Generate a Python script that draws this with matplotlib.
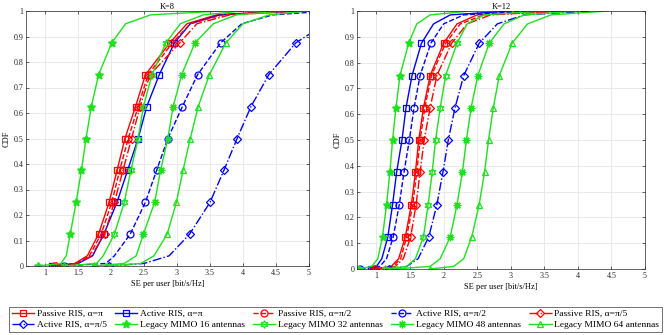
import matplotlib.pyplot as plt

plt.rcParams['font.family'] = ['Liberation Serif', 'DejaVu Serif']

cdf_levels = [0, 0.01, 0.04, 0.125, 0.25, 0.375, 0.5, 0.625, 0.75, 0.875, 0.95, 0.985, 1.0]
mark_idx = [0, 3, 4, 5, 6, 7, 8, 9]

# K = 8
k8_passive_pi = [1.13, 1.45, 1.64, 1.81, 1.97, 2.09, 2.21, 2.37, 2.52, 2.89, 3.15, 3.6, 4.6]
k8_active_pi = [1.10, 1.50, 1.72, 1.89, 2.09, 2.25, 2.41, 2.54, 2.73, 2.96, 3.2, 3.65, 4.8]
k8_passive_pi2 = [1.14, 1.47, 1.67, 1.85, 2.01, 2.13, 2.26, 2.41, 2.56, 2.93, 3.2, 3.7, 4.7]
k8_active_pi2 = [1.28, 1.92, 2.05, 2.29, 2.52, 2.69, 2.86, 3.08, 3.31, 3.66, 3.98, 4.45, 5.3]
k8_passive_pi5 = [1.16, 1.50, 1.70, 1.90, 2.05, 2.18, 2.31, 2.44, 2.59, 3.04, 3.3, 3.8, 4.9]
k8_active_pi5 = [1.97, 2.50, 2.88, 3.19, 3.50, 3.71, 3.91, 4.12, 4.39, 4.80, 5.25, 5.6, 6.0]
k8_mimo16 = [0.89, 1.24, 1.32, 1.38, 1.47, 1.55, 1.62, 1.70, 1.81, 2.01, 2.22, 2.6, 3.67]
k8_mimo32 = [1.28, 1.78, 1.88, 2.05, 2.20, 2.30, 2.41, 2.49, 2.62, 2.83, 3.05, 3.4, 4.0]
k8_mimo48 = [1.74, 2.20, 2.38, 2.49, 2.66, 2.75, 2.86, 2.94, 3.07, 3.27, 3.55, 3.9, 4.6]
k8_mimo64 = [1.93, 2.45, 2.65, 2.85, 2.99, 3.09, 3.20, 3.32, 3.49, 3.74, 4.0, 4.4, 5.0]

# K = 12
k12_passive_pi = [0.95, 1.22, 1.33, 1.43, 1.52, 1.58, 1.63, 1.70, 1.80, 2.00, 2.2, 2.5, 3.6]
k12_active_pi = [0.92, 1.00, 1.08, 1.17, 1.24, 1.30, 1.38, 1.44, 1.53, 1.67, 1.85, 2.1, 3.0]
k12_passive_pi2 = [0.96, 1.25, 1.36, 1.45, 1.54, 1.60, 1.65, 1.72, 1.82, 2.03, 2.25, 2.6, 3.7]
k12_active_pi2 = [0.76, 1.05, 1.15, 1.25, 1.34, 1.41, 1.49, 1.56, 1.65, 1.81, 2.0, 2.3, 3.3]
k12_passive_pi5 = [0.98, 1.28, 1.40, 1.51, 1.59, 1.65, 1.71, 1.80, 1.90, 2.12, 2.35, 2.7, 3.8]
k12_active_pi5 = [1.19, 1.45, 1.62, 1.78, 1.90, 1.99, 2.07, 2.17, 2.30, 2.53, 2.8, 3.2, 4.2]
k12_mimo16 = [0.74, 0.93, 1.02, 1.09, 1.15, 1.20, 1.24, 1.29, 1.35, 1.48, 1.6, 1.8, 2.4]
k12_mimo32 = [1.12, 1.45, 1.58, 1.70, 1.77, 1.83, 1.88, 1.95, 2.03, 2.20, 2.35, 2.6, 3.5]
k12_mimo48 = [1.27, 1.80, 1.95, 2.10, 2.20, 2.28, 2.34, 2.41, 2.51, 2.68, 2.9, 3.2, 4.0]
k12_mimo64 = [1.79, 2.15, 2.30, 2.42, 2.53, 2.61, 2.67, 2.74, 2.83, 3.02, 3.25, 3.6, 4.45]

labels = ["Passive RIS, α=π", "Active RIS, α=π", "Passive RIS, α=π/2", "Active RIS, α=π/2",
          "Passive RIS, α=π/5", "Active RIS, α=π/5", "Legacy MIMO 16 antennas",
          "Legacy MIMO 32 antennas", "Legacy MIMO 48 antennas", "Legacy MIMO 64 antennas"]

green = '#1ee01e'
# colour, line style, marker, marker size, filled
styles = [('red', '-', 's', 4.5, False), ('blue', '-', 's', 4.5, False),
          ('red', '--', 'o', 5, False), ('blue', '--', 'o', 5, False),
          ('red', '-.', 'D', 4, False), ('blue', '-.', 'D', 4, False),
          (green, '-', (5, 1, 0), 6, True), (green, '-', (6, 1, 0), 5.5, False),
          (green, '-', (8, 2, 0), 5.5, False), (green, '-', '^', 5, False)]

k8_series = [k8_passive_pi, k8_active_pi, k8_passive_pi2, k8_active_pi2, k8_passive_pi5,
             k8_active_pi5, k8_mimo16, k8_mimo32, k8_mimo48, k8_mimo64]
k12_series = [k12_passive_pi, k12_active_pi, k12_passive_pi2, k12_active_pi2, k12_passive_pi5,
              k12_active_pi5, k12_mimo16, k12_mimo32, k12_mimo48, k12_mimo64]

fig = plt.figure(figsize=(6.69, 3.35), dpi=100)
ax1 = fig.add_axes([26/669, 1-266/335, 283/669, 255/335])
ax2 = fig.add_axes([357/669, 1-269/335, 288/669, 258/335])

handles = []
for ax, series, title in [(ax1, k8_series, "K=8"), (ax2, k12_series, "K=12")]:
    for vals, (c, ls, m, ms, filled) in zip(series, styles):
        h, = ax.plot(vals, cdf_levels, color=c, linestyle=ls, lw=1.0, marker=m,
                     markevery=mark_idx, markersize=ms, mfc=c if filled else 'none', mew=0.9)
        if ax is ax1:
            handles.append(h)
    ax.set_xlim(0.71, 5)
    ax.set_ylim(0, 1)
    ax.set_xticks([1, 1.5, 2, 2.5, 3, 3.5, 4, 4.5, 5])
    ax.set_xticklabels(["1", "1.5", "2", "2.5", "3", "3.5", "4", "4.5", "5"])
    ax.set_yticks([i/10 for i in range(11)])
    ax.set_yticklabels(["0"] + ["0.%d" % i for i in range(1, 10)] + ["1"])
    ax.grid(True, color='#e6e6e6', lw=0.6)
    ax.set_axisbelow(True)
    ax.tick_params(direction='in', labelsize=5.8, length=2, width=0.5, colors='#262626',
                   top=True, right=True, pad=2)
    for s in ax.spines.values():
        s.set_linewidth(0.5)
        s.set_color('#262626')
    ax.set_xlabel("SE per user [bit/s/Hz]", fontsize=6, labelpad=2)
    ax.set_ylabel("CDF", fontsize=6, labelpad=2)
    ax.set_title(title, fontsize=6, pad=1.5)

# row-major order like the original legend
order = [0, 5, 1, 6, 2, 7, 3, 8, 4, 9]
leg = fig.legend([handles[i] for i in order], [labels[i] for i in order], ncol=5,
                 loc='lower center', bbox_to_anchor=(0.5015, 0.004), fontsize=6.8,
                 frameon=True, fancybox=False, edgecolor='#333333', handlelength=2.4,
                 handletextpad=0.3, columnspacing=0.8, labelspacing=0.25, borderpad=0.3,
                 borderaxespad=0.2)
leg.get_frame().set_linewidth(0.6)

plt.savefig("out.png", dpi=100)
